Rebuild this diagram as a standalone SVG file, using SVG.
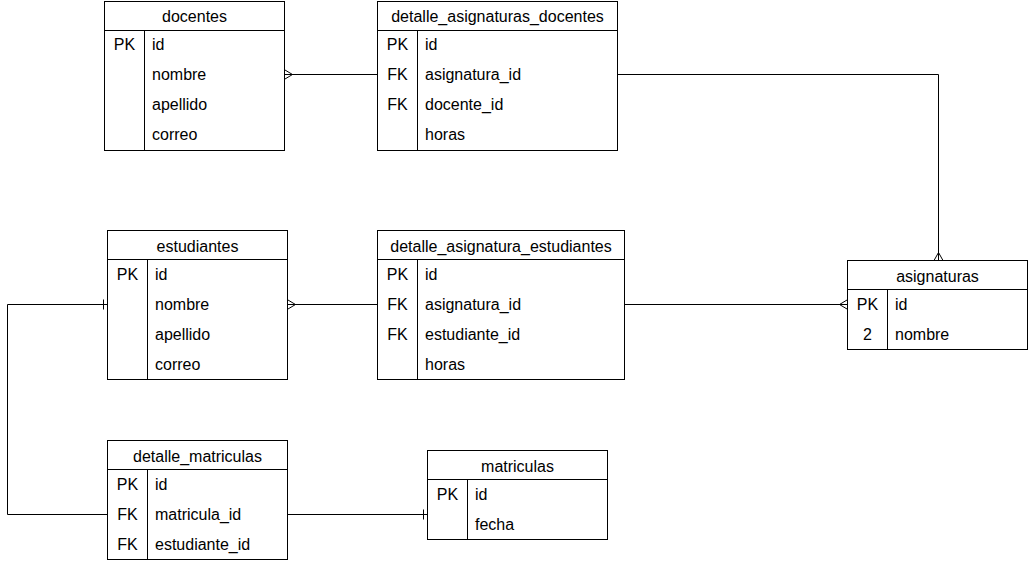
<svg xmlns="http://www.w3.org/2000/svg" width="1028" height="561" viewBox="0 0 1028 561">
<style>
.box{fill:#fff;stroke:#000;stroke-width:1}
.ln{fill:none;stroke:#000;stroke-width:1}
text{font-family:"Liberation Sans",Arial,sans-serif;font-size:16px;fill:#000}
.h{text-anchor:middle}
.k{text-anchor:middle}
</style>
<rect width="1028" height="561" fill="#fff"/>
<g id="connectors">
  <path class="ln" d="M284.5,74.5 H377.5"/>
  <path class="ln" d="M292.5,74.5 L285,70 M292.5,74.5 L285,79"/>
  <path class="ln" d="M617.5,74.5 H938.5 V260.5"/>
  <path class="ln" d="M938.5,252.5 L934,260.5 M938.5,252.5 L943,260.5"/>
  <path class="ln" d="M287.5,304.5 H377.5"/>
  <path class="ln" d="M295.5,304.5 L288,300 M295.5,304.5 L288,309"/>
  <path class="ln" d="M624.5,304.5 H847.5"/>
  <path class="ln" d="M839.5,304.5 L847,300 M839.5,304.5 L847,309"/>
  <path class="ln" d="M107.5,304.5 H7.5 V514.5 H107.5"/>
  <path class="ln" d="M103.5,299.5 V309.5"/>
  <path class="ln" d="M287.5,514.5 H427.5"/>
  <path class="ln" d="M423.5,509.5 V519.5"/>
</g>
<g id="docentes">
  <rect class="box" x="104.5" y="1.5" width="180" height="149"/>
  <path class="ln" d="M104.5,30.5 H284.5 M144.5,30.5 V150.5"/>
  <text class="h" x="194.5" y="22">docentes</text>
  <text class="k" x="124.5" y="50">PK</text>
  <text x="152" y="50">id</text>
  <text x="152" y="80">nombre</text>
  <text x="152" y="110">apellido</text>
  <text x="152" y="140">correo</text>
</g>
<g id="detalle_asignaturas_docentes">
  <rect class="box" x="377.5" y="1.5" width="240" height="149"/>
  <path class="ln" d="M377.5,30.5 H617.5 M417.5,30.5 V150.5"/>
  <text class="h" x="497.5" y="22">detalle_asignaturas_docentes</text>
  <text class="k" x="397.5" y="50">PK</text>
  <text class="k" x="397.5" y="80">FK</text>
  <text class="k" x="397.5" y="110">FK</text>
  <text x="425" y="50">id</text>
  <text x="425" y="80">asignatura_id</text>
  <text x="425" y="110">docente_id</text>
  <text x="425" y="140">horas</text>
</g>
<g id="estudiantes">
  <rect class="box" x="107.5" y="230.5" width="180" height="149"/>
  <path class="ln" d="M107.5,259.5 H287.5 M147.5,259.5 V379.5"/>
  <text class="h" x="197.5" y="252">estudiantes</text>
  <text class="k" x="127.5" y="280">PK</text>
  <text x="155" y="280">id</text>
  <text x="155" y="310">nombre</text>
  <text x="155" y="340">apellido</text>
  <text x="155" y="370">correo</text>
</g>
<g id="detalle_asignatura_estudiantes">
  <rect class="box" x="377.5" y="230.5" width="247" height="149"/>
  <path class="ln" d="M377.5,259.5 H624.5 M417.5,259.5 V379.5"/>
  <text class="h" x="501" y="252">detalle_asignatura_estudiantes</text>
  <text class="k" x="397.5" y="280">PK</text>
  <text class="k" x="397.5" y="310">FK</text>
  <text class="k" x="397.5" y="340">FK</text>
  <text x="425" y="280">id</text>
  <text x="425" y="310">asignatura_id</text>
  <text x="425" y="340">estudiante_id</text>
  <text x="425" y="370">horas</text>
</g>
<g id="asignaturas">
  <rect class="box" x="847.5" y="260.5" width="180" height="89"/>
  <path class="ln" d="M847.5,289.5 H1027.5 M887.5,289.5 V349.5"/>
  <text class="h" x="937.5" y="282">asignaturas</text>
  <text class="k" x="867.5" y="310">PK</text>
  <text class="k" x="867.5" y="340">2</text>
  <text x="895" y="310">id</text>
  <text x="895" y="340">nombre</text>
</g>
<g id="detalle_matriculas">
  <rect class="box" x="107.5" y="440.5" width="180" height="119"/>
  <path class="ln" d="M107.5,469.5 H287.5 M147.5,469.5 V559.5"/>
  <text class="h" x="197.5" y="462">detalle_matriculas</text>
  <text class="k" x="127.5" y="490">PK</text>
  <text class="k" x="127.5" y="520">FK</text>
  <text class="k" x="127.5" y="550">FK</text>
  <text x="155" y="490">id</text>
  <text x="155" y="520">matricula_id</text>
  <text x="155" y="550">estudiante_id</text>
</g>
<g id="matriculas">
  <rect class="box" x="427.5" y="450.5" width="180" height="89"/>
  <path class="ln" d="M427.5,479.5 H607.5 M467.5,479.5 V539.5"/>
  <text class="h" x="517.5" y="472">matriculas</text>
  <text class="k" x="447.5" y="500">PK</text>
  <text x="475" y="500">id</text>
  <text x="475" y="530">fecha</text>
</g>
</svg>
